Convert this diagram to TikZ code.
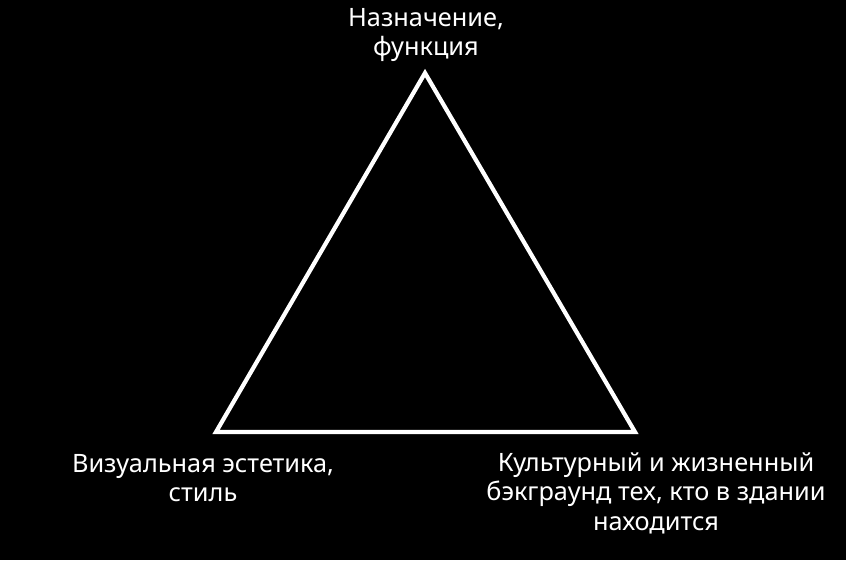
\documentclass[tikz,border=0pt]{standalone}
\usepackage{fontspec}
\setmainfont{Noto Sans}
\begin{document}
\begin{tikzpicture}[x=0.025cm, y=-0.025cm,
      notion/.style ={text=white, align=center, font=\fontsize{18}{21}\selectfont},
      side/.style ={draw=white, line width=3pt, line join=miter}]

   \fill[black] (0,0) rectangle (846,560);

   \coordinate (A) at (425,73);
   \coordinate (B) at (216,432);
   \coordinate (C) at (635,432);

   \draw[side] (A) -- (B) -- (C) -- cycle;

   \node[notion] (a) at (426,35) {Назначение,\\функция};
   \node[notion] (b) at (203,478) {Визуальная эстетика,\\стиль};
   \node[notion] (c) at (656,493) {Культурный и жизненный\\бэкграунд тех, кто в здании\\находится};

\end{tikzpicture}
\end{document}
